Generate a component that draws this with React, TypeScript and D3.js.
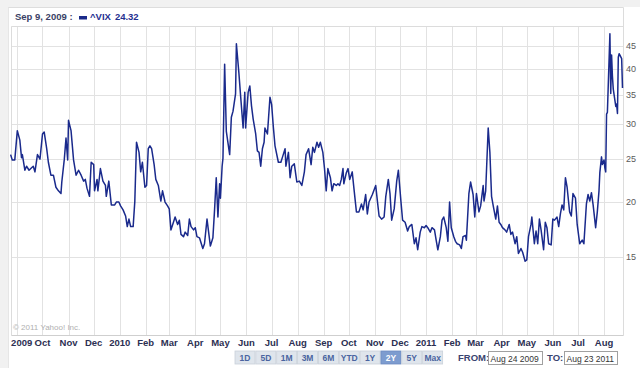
import React from "react";
import * as d3 from "d3";

// ---- data ----
const START_DATE = new Date(2009, 7, 24);
const END_DATE = new Date(2011, 7, 23);

// days since START_DATE
const dayOffsets = [
  0, 2, 5, 8, 11, 13, 14, 17, 19, 22, 25, 27, 29, 32, 35, 38, 40, 43, 45, 48,
  51, 54, 57, 60, 61, 64, 66, 68, 69, 72, 75, 78, 81, 84, 87, 89, 91, 94, 96, 99,
  100, 103, 104, 107, 110, 113, 114, 117, 120, 124, 126, 129, 131, 134, 137, 139, 141, 143, 146, 148,
  150, 153, 155, 157, 160, 162, 164, 166, 168, 171, 173, 176, 179, 181, 184, 187, 189, 191, 194, 196,
  199, 201, 203, 206, 208, 211, 213, 215, 218, 220, 222, 225, 229, 231, 234, 238, 241, 243, 245, 247,
  249, 250, 252, 253, 255, 257, 261, 263, 265, 268, 269, 272, 274, 277, 279, 280, 283, 285, 287, 289,
  292, 294, 296, 298, 300, 302, 303, 306, 309, 311, 313, 315, 319, 322, 324, 327, 328, 331, 333, 335,
  338, 341, 344, 347, 350, 352, 355, 358, 360, 362, 365, 367, 369, 372, 374, 376, 378, 381, 383, 385,
  388, 390, 392, 394, 396, 397, 400, 402, 404, 407, 409, 412, 415, 418, 420, 423, 425, 427, 431, 435,
  437, 439, 442, 445, 447, 450, 452, 454, 457, 460, 462, 465, 467, 470, 473, 475, 478, 481, 483, 485,
  488, 490, 493, 495, 497, 500, 502, 505, 507, 509, 512, 514, 516, 519, 521, 523, 525, 528, 530, 532,
  535, 537, 539, 542, 543, 546, 548, 551, 553, 555, 558, 560, 563, 564, 566, 569, 571, 573, 575, 578,
  580, 582, 584, 586, 589, 591, 594, 596, 598, 601, 603, 605, 608, 610, 613, 615, 617, 620, 621, 624,
  626, 628, 630, 632, 635, 637, 639, 641, 644, 646, 648, 651, 653, 655, 657, 659, 661, 663, 666, 668,
  670, 673, 675, 678, 681, 683, 686, 688, 690, 692, 694, 697, 699, 701, 702, 704, 705, 707, 708, 709,
  710, 711, 714, 715, 716, 717, 718, 721, 722, 723, 724, 725, 728, 729,
];

const vixValues = [
  25.6, 24.9, 24.9, 29.0, 27.6, 25.2, 25.6, 23.6, 24.1, 23.6, 23.9, 24.1, 23.4, 25.6, 25.0, 28.5, 28.8, 26.4, 24.6, 23.0,
  23.0, 21.6, 21.2, 20.9, 22.2, 25.0, 27.9, 24.9, 30.6, 29.0, 24.9, 23.0, 23.6, 23.0, 22.3, 22.5, 21.5, 20.6, 24.6, 24.3,
  21.2, 22.5, 21.2, 23.8, 22.3, 21.8, 20.6, 22.3, 19.7, 19.7, 20.0, 20.0, 19.6, 19.2, 18.6, 17.6, 18.3, 17.6, 17.6, 20.1,
  27.3, 25.9, 23.4, 24.6, 21.6, 21.8, 26.4, 26.8, 26.4, 24.3, 22.5, 21.8, 20.1, 21.2, 20.0, 19.6, 19.3, 17.3, 18.0, 18.5,
  17.8, 18.2, 16.9, 16.7, 17.1, 16.8, 18.3, 17.6, 17.3, 17.5, 16.7, 16.6, 15.7, 16.1, 18.3, 15.9, 16.6, 19.2, 22.7, 18.5,
  22.0, 20.4, 24.1, 25.1, 41.0, 28.9, 25.6, 31.1, 32.1, 35.1, 45.6, 39.1, 34.8, 29.4, 35.4, 29.4, 35.4, 36.6, 33.0, 30.8,
  28.5, 26.1, 25.9, 24.1, 26.4, 27.3, 29.4, 28.5, 34.5, 33.2, 29.6, 26.8, 24.6, 24.6, 25.3, 26.4, 24.1, 25.9, 22.7, 24.1,
  24.4, 22.2, 22.3, 21.8, 23.4, 25.6, 26.4, 24.3, 26.6, 25.9, 27.3, 26.6, 27.3, 25.9, 23.8, 21.2, 23.8, 22.7, 21.2, 22.0,
  21.8, 22.0, 21.8, 22.5, 23.8, 22.0, 23.3, 23.8, 22.5, 23.4, 21.5, 19.0, 19.0, 19.8, 19.2, 20.8, 18.8, 20.0, 20.8, 21.8,
  20.1, 18.6, 18.3, 18.5, 20.6, 22.5, 20.9, 18.2, 19.3, 22.3, 23.6, 20.1, 18.2, 18.0, 17.2, 17.6, 17.8, 16.1, 16.6, 15.6,
  17.1, 17.6, 17.5, 17.7, 17.5, 17.1, 17.5, 17.3, 16.4, 15.6, 16.7, 18.2, 18.5, 17.5, 16.3, 20.0, 17.5, 16.7, 16.3, 16.1,
  16.0, 15.7, 16.7, 16.8, 16.4, 20.9, 22.2, 20.8, 18.5, 20.9, 19.0, 19.6, 21.8, 20.1, 21.2, 29.4, 25.9, 20.6, 19.6, 18.3,
  19.6, 18.0, 17.8, 17.5, 17.3, 17.1, 17.8, 16.9, 17.1, 16.1, 16.7, 15.3, 15.7, 15.4, 14.7, 14.8, 16.7, 17.8, 18.5, 16.1,
  17.2, 16.1, 18.3, 17.3, 15.6, 18.0, 17.5, 16.1, 16.0, 18.3, 18.2, 18.5, 17.6, 18.8, 19.7, 19.2, 22.7, 21.6, 19.0, 18.6,
  20.9, 20.4, 17.8, 16.1, 16.4, 16.1, 19.8, 20.8, 20.1, 21.0, 19.7, 17.5, 19.0, 21.2, 23.3, 25.3, 24.3, 24.9, 23.9, 23.4,
  31.6, 31.9, 48.0, 35.2, 43.0, 38.5, 36.0, 32.9, 33.3, 31.7, 42.5, 43.3, 42.2, 36.2,
];

const monthLabels = [
  "2009", "Oct", "Nov", "Dec", "2010", "Feb", "Mar", "Apr", "May", "Jun", "Jul", "Aug",
  "Sep", "Oct", "Nov", "Dec", "2011", "Feb", "Mar", "Apr", "May", "Jun", "Jul", "Aug",
];
const yTickValues = [15, 20, 25, 30, 35, 40, 45];
const yGridValues = [15, 20, 25, 30, 35, 40, 45, 50];
const rangeButtons = ["1D", "5D", "1M", "3M", "6M", "YTD", "1Y", "2Y", "5Y", "Max"];
const selectedRange = "2Y";
const headerDate = "Sep 9, 2009 :";
const headerSeries = "^VIX";
const headerValue = "24.32";
const fromDate = "Aug 24 2009";
const toDate = "Aug 23 2011";

// ---- layout ----
const W = 640;
const H = 368;
const plotLeft = 10.6;
const plotRight = 622.5;
const plotTop = 26;
const plotBottom = 335.2;
const FONT = "'Liberation Sans', Arial, sans-serif";

export default function App() {
  const x = d3.scaleTime().domain([START_DATE, END_DATE]).range([plotLeft, plotRight]);
  const y = d3.scaleLog().domain([10, 50]).range([plotBottom, plotTop]);

  const data = dayOffsets.map((d, i) => ({
    date: d3.timeDay.offset(START_DATE, d),
    value: vixValues[i],
  }));

  const line = d3
    .line<{ date: Date; value: number }>()
    .x((d) => x(d.date))
    .y((d) => y(d.value))
    .curve(d3.curveLinear);

  const months = d3.timeMonth.range(new Date(2009, 8, 1), new Date(2011, 8, 1));

  const crisp = (v: number) => Math.round(v) + 0.5;
  const L = crisp(plotLeft);
  const R = crisp(plotRight);
  const T = crisp(plotTop);
  const B = crisp(plotBottom);

  const btnX0 = 235;
  const btnStep = 20.85;
  const btnW = 20;
  const btnY = 351;
  const btnH = 13;

  return (
    <svg
      width={W}
      height={H}
      style={{ position: "absolute", left: 0, top: 0, display: "block", background: "#fff" }}
      fontFamily={FONT}
    >
      {/* page chrome */}
      <rect x={0} y={0} width={W} height={7} fill="#f1f1f1" />
      <rect x={0} y={0} width={8} height={H} fill="#f1f1f1" />
      <line x1={8} x2={R} y1={7.5} y2={7.5} stroke="#dddddd" />
      <line x1={8.5} x2={8.5} y1={7.5} y2={H} stroke="#e6e6e6" />

      {/* header */}
      <text x={15} y={20} fontSize={9.5} fontWeight="bold" fill="#3a3f66">
        {headerDate}
      </text>
      <rect x={79} y={16} width={8} height={3.5} fill="#1a2a8a" />
      <text x={90} y={20} fontSize={9.5} fontWeight="bold" fill="#1f3090">
        {headerSeries}
        <tspan dx={4}>{headerValue}</tspan>
      </text>

      {/* vertical grid */}
      {months.map((m, i) => (
        <line
          key={"vg" + i}
          x1={crisp(x(m))}
          x2={crisp(x(m))}
          y1={T}
          y2={B}
          stroke="#e2e2e2"
        />
      ))}
      {/* horizontal grid */}
      {yGridValues.map((v) => (
        <line key={"hg" + v} x1={L} x2={R} y1={crisp(y(v))} y2={crisp(y(v))} stroke="#e2e2e2" />
      ))}

      {/* frame */}
      <line x1={L} x2={L} y1={T} y2={B} stroke="#dcdcdc" />
      <line x1={R} x2={R} y1={7.5} y2={B} stroke="#dcdcdc" />
      <line x1={L} x2={R} y1={T} y2={T} stroke="#dcdcdc" />
      <line x1={L} x2={R} y1={B} y2={B} stroke="#cfcfcf" />

      {/* copyright */}
      <text x={13} y={330} fontSize={8} fill="#b0b0b0">
        © 2011 Yahoo! Inc.
      </text>

      {/* series */}
      <path d={line(data) || ""} fill="none" stroke="#1a2a8c" strokeWidth={1.5} strokeLinejoin="round" />

      {/* y tick labels */}
      {yTickValues.map((v) => (
        <text key={"yt" + v} x={626} y={y(v)} dy="0.35em" fontSize={9} fill="#5a5a5a">
          {v}
        </text>
      ))}

      {/* x tick labels */}
      {months.map((m, i) => (
        <text
          key={"xt" + i}
          x={i === 0 ? plotLeft + 0.5 : x(m)}
          y={346}
          textAnchor={i === 0 ? "start" : "middle"}
          fontSize={9.5}
          fontWeight="bold"
          fill="#2c2f52"
        >
          {monthLabels[i]}
        </text>
      ))}

      {/* range buttons */}
      {rangeButtons.map((b, i) => {
        const sel = b === selectedRange;
        const bx = btnX0 + i * btnStep;
        return (
          <g key={"btn" + b}>
            <rect
              x={bx}
              y={btnY}
              width={btnW}
              height={btnH}
              fill={sel ? "#7d9ccf" : "#dfe5ec"}
              stroke={sel ? "#6b8bc0" : "#c9d0d9"}
              strokeWidth={0.8}
            />
            <text
              x={bx + btnW / 2}
              y={btnY + 9.8}
              textAnchor="middle"
              fontSize={8.5}
              fontWeight="bold"
              fill={sel ? "#ffffff" : "#4a64a0"}
            >
              {b}
            </text>
          </g>
        );
      })}

      {/* date range inputs */}
      <text x={458} y={361} fontSize={9.5} fontWeight="bold" fill="#3a4470">
        FROM:
      </text>
      <rect x={488.5} y={351.5} width={54} height={13} fill="#fff" stroke="#a0a0a0" />
      <text x={490.5} y={361.5} fontSize={8.5} fill="#333">
        {fromDate}
      </text>
      <text x={547} y={361} fontSize={9.5} fontWeight="bold" fill="#3a4470">
        TO:
      </text>
      <rect x={564.5} y={351.5} width={53} height={13} fill="#fff" stroke="#a0a0a0" />
      <text x={566.5} y={361.5} fontSize={8.5} fill="#333">
        {toDate}
      </text>
    </svg>
  );
}
